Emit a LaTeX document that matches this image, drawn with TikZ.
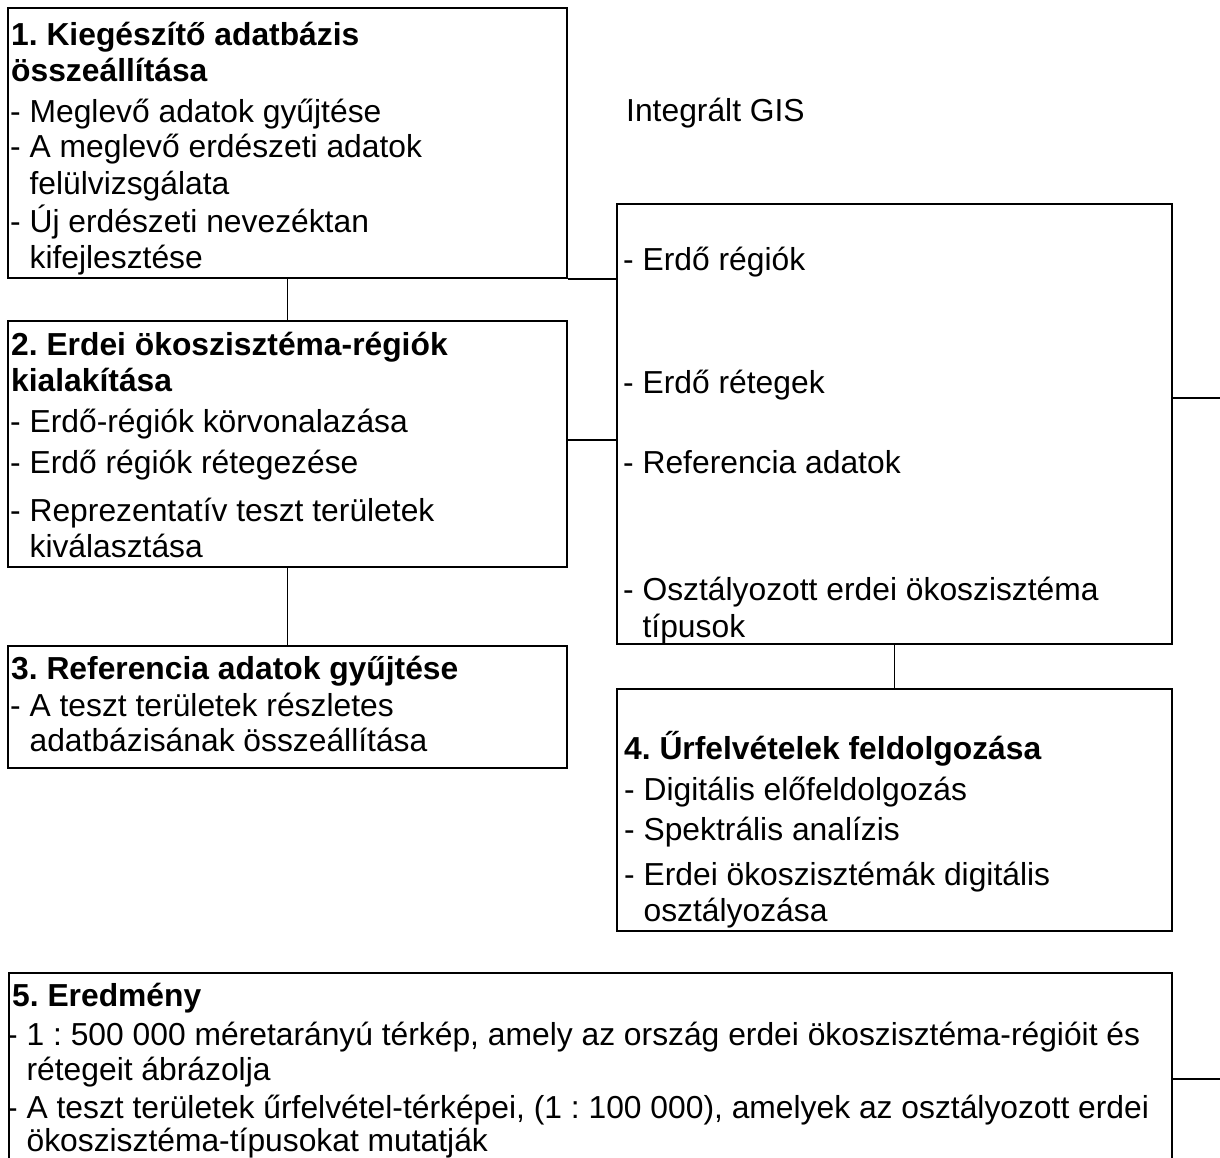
\documentclass[tikz,border=0pt]{standalone}
\usepackage{fontspec}
\setmainfont{Liberation Sans}
\newcommand{\ind}{\hphantom{- }}
\begin{document}
\frenchspacing
\begin{tikzpicture}[x=1pt,y=-1pt,
  box/.style={draw,line width=1.8pt,inner sep=0pt,anchor=north west},
  txt/.style={anchor=base west,inner sep=0pt,font=\fontsize{31.8}{36}\selectfont},
  ttl/.style={anchor=base west,inner sep=0pt,font=\fontsize{31.8}{36}\selectfont\bfseries},
  link/.style={line width=1.8pt}]
\useasboundingbox (0,0) rectangle (1220,1158);
\clip (0,0) rectangle (1220,1158);

% boxes
\node[box,minimum width=559pt,minimum height=270pt] (b1) at (7,7) {};
\node[box,minimum width=559pt,minimum height=246pt] (b2) at (7,320) {};
\node[box,minimum width=559pt,minimum height=122pt] (b3) at (7,645) {};
\node[box,minimum width=555pt,minimum height=440pt] (gis) at (616,203) {};
\node[box,minimum width=555pt,minimum height=242pt] (b4) at (616,688) {};
\node[box,minimum width=1163pt,minimum height=215pt] (b5) at (8,972) {};

% free ends
\coordinate (e1) at (1220,398);
\coordinate (e2) at (1220,1079);

% connectors
\draw[link] (b1.south) -- (b2.north);
\draw[link] (b2.south) -- (b3.north);
\draw[link] (gis.south) -- (b4.north);
\draw[link] (b1.south east) -- (b1.south east -| gis.west);
\draw[link] ([yshift=4pt]b2.east) -- ([yshift=4pt]b2.east -| gis.west);
\draw[link] (gis.east |- e1) -- (e1);
\draw[link] (b5.east |- e2) -- (e2);

% free label
\node[txt] (lgis) at (626,122) {Integrált GIS};

% box 1
\node[ttl] (t11) at (11,46) {1. Kiegészítő adatbázis};
\node[ttl] (t12) at (11,82) {összeállítása};
\node[txt] (t13) at (10,123) {- Meglevő adatok gyűjtése};
\node[txt] (t14) at (10,158) {- A meglevő erdészeti adatok};
\node[txt] (t15) at (10,195) {\ind felülvizsgálata};
\node[txt] (t16) at (10,233) {- Új erdészeti nevezéktan};
\node[txt] (t17) at (10,269) {\ind kifejlesztése};

% box 2
\node[ttl] (t21) at (11,355) {2. Erdei ökoszisztéma-régiók};
\node[ttl] (t22) at (11,391) {kialakítása};
\node[txt] (t23) at (10,432) {- Erdő-régiók körvonalazása};
\node[txt] (t24) at (10,473) {- Erdő régiók rétegezése};
\node[txt] (t25) at (10,521) {- Reprezentatív teszt területek};
\node[txt] (t26) at (10,557) {\ind kiválasztása};

% box 3
\node[ttl] (t31) at (11,679) {3. Referencia adatok gyűjtése};
\node[txt] (t32) at (10,716) {- A teszt területek részletes};
\node[txt] (t33) at (10,751) {\ind adatbázisának összeállítása};

% GIS box
\node[txt] (g1) at (623,271) {- Erdő régiók};
\node[txt] (g2) at (623,393) {- Erdő rétegek};
\node[txt] (g3) at (623,473) {- Referencia adatok};
\node[txt] (g4) at (623,600) {- Osztályozott erdei ökoszisztéma};
\node[txt] (g5) at (623,637) {\ind típusok};

% box 4
\node[ttl] (t41) at (624,759) {4. Űrfelvételek feldolgozása};
\node[txt] (t42) at (624,800) {- Digitális előfeldolgozás};
\node[txt] (t43) at (624,840) {- Spektrális analízis};
\node[txt] (t44) at (624,885) {- Erdei ökoszisztémák digitális};
\node[txt] (t45) at (624,921) {\ind osztályozása};

% box 5
\node[ttl] (t51) at (12,1006) {5. Eredmény};
\node[txt] (t52) at (7,1045) {- 1 : 500 000 méretarányú térkép, amely az ország erdei ökoszisztéma-régióit és};
\node[txt] (t53) at (7,1080) {\ind rétegeit ábrázolja};
\node[txt] (t54) at (7,1118) {- A teszt területek űrfelvétel-térképei, (1 : 100 000), amelyek az osztályozott erdei};
\node[txt] (t55) at (7,1151) {\ind ökoszisztéma-típusokat mutatják};
\end{tikzpicture}
\end{document}
